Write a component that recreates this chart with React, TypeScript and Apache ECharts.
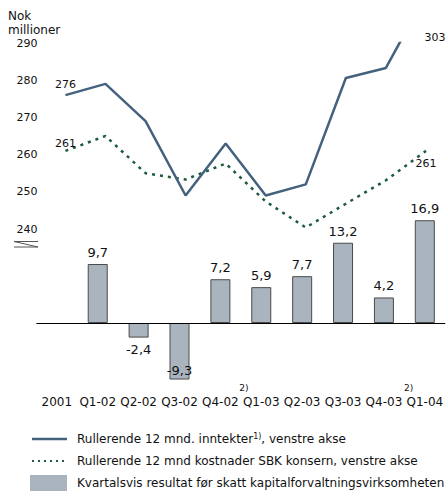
import React, { useEffect, useRef } from "react";
import * as echarts from "echarts";

const categories = ["2001", "Q1-02", "Q2-02", "Q3-02", "Q4-02", "Q1-03", "Q2-03", "Q3-03", "Q4-03", "Q1-04"];
const revenue = [276, 279, 269, 249, 263, 249, 252, 280.6, 283.3, 303];
const costs = [261, 265, 255, 253.3, 257.6, 247.4, 240.4, 246.8, 253.1, 261];
const quarterlyResult: (number | null)[] = [null, 9.7, -2.4, -9.3, 7.2, 5.9, 7.7, 13.2, 4.2, 16.9];
const lineAxisMin = 240;
const lineAxisMax = 290;
const lineAxisStep = 10;
const footnoteCategories = ["Q4-02", "Q4-03"];
const footnoteMark = "2)";
const unitTitle = ["Nok", "millioner"];
const legendRevenue = "Rullerende 12 mnd. inntekter";
const legendRevenueNote = "1)";
const legendRevenueTail = ", venstre akse";
const legendCosts = "Rullerende 12 mnd kostnader SBK konsern, venstre akse";
const legendResult = "Kvartalsvis resultat før skatt kapitalforvaltningsvirksomheten";

const FONT = "DejaVu Sans, Verdana, sans-serif";
const LINE_BLUE = "#44617e";
const DOT_GREEN = "#1f5a42";
const BAR_FILL = "#a9b4be";
const BAR_BORDER = "#4a4a4a";

const BAND = 41.2;
const BAR_LEFT = 36.4;
const LINE_LEFT = 45.4;

const fmt = (v: number) => String(v).replace(".", ",");

export default function App() {
  const ref = useRef<HTMLDivElement>(null);
  useEffect(() => {
    if (!ref.current) return;
    const chart = echarts.init(ref.current, null, { renderer: "svg" });
    const n = categories.length;

    const labelStyle = { fontSize: 11, color: "#111", fontFamily: FONT };
    const revenueData = revenue.map((v, i) =>
      i === 0
        ? { value: v, label: { ...labelStyle, show: true, position: "top", distance: 5, formatter: fmt(Math.round(v)) } }
        : v
    );
    const costData = costs.map((v, i) => {
      if (i === 0) return { value: v, label: { ...labelStyle, show: true, position: "top", distance: 1, formatter: fmt(Math.round(v)) } };
      if (i === n - 1) return { value: v, label: { ...labelStyle, show: true, position: "bottom", distance: 7, formatter: fmt(Math.round(v)) } };
      return v;
    });
    const barData = quarterlyResult.map((v) => {
      if (v === null) return null;
      let position = "top";
      if (v < 0) position = v < -5 ? "insideBottom" : "bottom";
      return { value: v, label: { show: true, position, distance: v < -5 ? 3 : 5, formatter: fmt(v) } };
    });

    const graphic: any[] = [
      { type: "text", left: 8, top: 10, style: { text: unitTitle[0], font: `12px ${FONT}`, fill: "#111" } },
      { type: "text", left: 8, top: 24, style: { text: unitTitle[1], font: `12px ${FONT}`, fill: "#111" } },
      {
        type: "polyline",
        shape: { points: [[38, 241.5], [14, 241.5], [38, 247], [14, 247]] },
        style: { stroke: "#555", lineWidth: 1, fill: "none" },
      },
      {
        type: "text",
        x: 435,
        y: 37,
        style: { text: fmt(revenue[n - 1]), font: `11px ${FONT}`, fill: "#111", align: "center", verticalAlign: "middle" },
      },
      // legend
      { type: "line", shape: { x1: 32, y1: 439, x2: 67, y2: 439 }, style: { stroke: LINE_BLUE, lineWidth: 2.5 } },
      {
        type: "text",
        x: 77,
        y: 439,
        style: {
          text: `{m|${legendRevenue}}{s|${legendRevenueNote}}{m|${legendRevenueTail}}`,
          verticalAlign: "middle",
          rich: {
            m: { font: `12px ${FONT}`, fill: "#111", lineHeight: 14 },
            s: { font: `8px ${FONT}`, fill: "#111", verticalAlign: "top", lineHeight: 9 },
          },
        },
      },
      { type: "line", shape: { x1: 32, y1: 461, x2: 67, y2: 461 }, style: { stroke: DOT_GREEN, lineWidth: 2, lineDash: [2, 4] } },
      { type: "text", x: 77, y: 461, style: { text: legendCosts, font: `12px ${FONT}`, fill: "#111", verticalAlign: "middle" } },
      { type: "rect", shape: { x: 30, y: 475, width: 37, height: 16 }, style: { fill: BAR_FILL } },
      { type: "text", x: 77, y: 483, style: { text: legendResult, font: `12px ${FONT}`, fill: "#111", verticalAlign: "middle" } },
    ];
    footnoteCategories.forEach((c) => {
      const i = categories.indexOf(c);
      graphic.push({
        type: "text",
        x: BAR_LEFT + (i + 0.5) * BAND + 22,
        y: 388,
        style: { text: footnoteMark, font: `9px ${FONT}`, fill: "#111", align: "center", verticalAlign: "middle" },
      });
    });

    chart.setOption({
      animation: false,
      textStyle: { fontFamily: FONT },
      grid: [
        { left: LINE_LEFT, top: 43, width: BAND * n, height: 186 },
        { left: BAR_LEFT, top: 323 - 17 * 6.08, width: BAND * n, height: 27 * 6.08 },
      ],
      xAxis: [
        { type: "category", gridIndex: 0, data: categories, show: false, boundaryGap: true },
        {
          type: "category",
          gridIndex: 1,
          data: categories,
          boundaryGap: true,
          axisLine: { show: false, onZero: false },
          axisTick: { show: false },
          axisLabel: { interval: 0, margin: 12, fontSize: 12, color: "#111", fontFamily: FONT },
        },
      ],
      yAxis: [
        {
          type: "value",
          gridIndex: 0,
          min: lineAxisMin,
          max: lineAxisMax,
          interval: lineAxisStep,
          axisLine: { show: false },
          axisTick: { show: false },
          splitLine: { show: false },
          axisLabel: { margin: 8, fontSize: 11, color: "#111", fontFamily: FONT },
        },
        { type: "value", gridIndex: 1, min: -10, max: 17, show: false, splitLine: { show: false } },
      ],
      series: [
        {
          type: "bar",
          xAxisIndex: 1,
          yAxisIndex: 1,
          data: barData,
          barWidth: 20,
          itemStyle: { color: BAR_FILL, borderColor: BAR_BORDER, borderWidth: 1 },
          label: { fontSize: 13, color: "#111", fontFamily: FONT },
          markLine: {
            silent: true,
            symbol: ["none", "none"],
            label: { show: false },
            lineStyle: { color: "#000", width: 1, type: "solid" },
            data: [{ yAxis: 0 }],
          },
        },
        {
          type: "line",
          xAxisIndex: 0,
          yAxisIndex: 0,
          data: costData,
          showSymbol: true,
          showAllSymbol: true,
          symbol: "circle",
          symbolSize: 1,
          itemStyle: { color: "rgba(0,0,0,0)", borderWidth: 0 },
          clip: false,
          lineStyle: { color: DOT_GREEN, width: 2.5, type: [3, 5] },
        },
        {
          type: "line",
          xAxisIndex: 0,
          yAxisIndex: 0,
          data: revenueData,
          showSymbol: true,
          showAllSymbol: true,
          symbol: "circle",
          symbolSize: 1,
          itemStyle: { color: "rgba(0,0,0,0)", borderWidth: 0 },
          clip: true,
          lineStyle: { color: LINE_BLUE, width: 2.5 },
        },
      ],
      graphic,
    });
    return () => chart.dispose();
  }, []);
  return <div ref={ref} style={{ position: "absolute", left: 0, top: 0, width: 446, height: 491 }} />;
}
